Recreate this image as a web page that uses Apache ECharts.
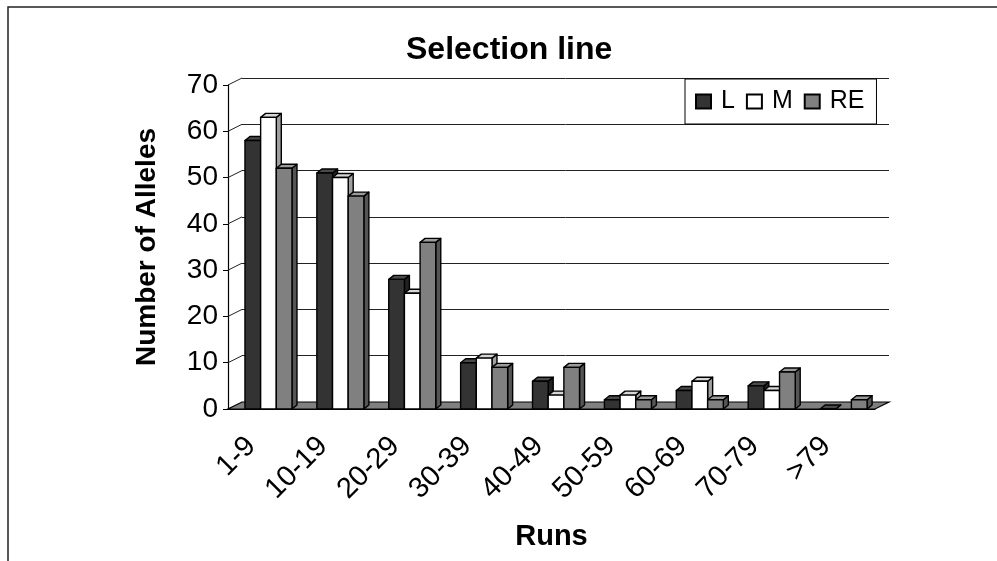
<!DOCTYPE html>
<html>
<head>
<meta charset="utf-8">
<script src="https://cdn.jsdelivr.net/npm/echarts@6/dist/echarts.min.js"></script>
<style>html,body{margin:0;padding:0;background:#fff;}#c{width:997px;height:561px;}</style>
</head>
<body>
<div id="c"></div>
<script>
var categories = ['1-9','10-19','20-29','30-39','40-49','50-59','60-69','70-79','>79'];
var seriesL  = [58, 51, 28, 10, 6, 2, 4, 5, 0];
var seriesM  = [63, 50, 25, 11, 3, 3, 6, 4, null];
var seriesRE = [52, 46, 36, 9, 9, 2, 2, 8, 2];
var yTicks = [0, 10, 20, 30, 40, 50, 60, 70];

var FONT = "'Liberation Sans', Arial, sans-serif";
var WALL_DX = 14, WALL_DY = -7;
var BAR_DX = 5, BAR_DY = -4;

var faceColors = [
  {front: '#333333', top: '#4a4a4a', side: '#222222'},
  {front: '#ffffff', top: '#d6d6d6', side: '#a0a0a0'},
  {front: '#808080', top: '#9a9a9a', side: '#555555'}
];

function toData(arr) {
  return arr.map(function (v, i) { return [i, v]; });
}

function barRender(si) {
  return function (params, api) {
    var v = api.value(1);
    if (v === null || v === undefined || isNaN(v)) return null;
    var idx = api.value(0);
    var band = api.size([1, 0])[0];
    var c = api.coord([idx, v]);
    var b = api.coord([idx, 0]);
    var w = band * 0.218;
    var x0 = c[0] - band / 2 + band * 0.236 + si * w;
    var yt = c[1], yb = b[1];
    var fc = faceColors[si];
    var st = {stroke: '#000', lineWidth: 1.4, lineJoin: 'round'};
    return {
      type: 'group',
      children: [
        {type: 'polygon', shape: {points: [[x0 + w, yb], [x0 + w + BAR_DX, yb + BAR_DY], [x0 + w + BAR_DX, yt + BAR_DY], [x0 + w, yt]]},
          style: Object.assign({fill: fc.side}, st)},
        {type: 'polygon', shape: {points: [[x0, yt], [x0 + w, yt], [x0 + w + BAR_DX, yt + BAR_DY], [x0 + BAR_DX, yt + BAR_DY]]},
          style: Object.assign({fill: fc.top}, st)},
        {type: 'rect', shape: {x: x0, y: yt, width: w, height: yb - yt},
          style: Object.assign({fill: fc.front}, st)}
      ]
    };
  };
}

function floorRender(params, api) {
  var cs = params.coordSys;
  var L = cs.x, R = cs.x + cs.width, y0 = cs.y + cs.height;
  var children = [
    {type: 'polygon', shape: {points: [[L, y0], [R, y0], [R + WALL_DX, y0 + WALL_DY], [L + WALL_DX, y0 + WALL_DY]]},
      style: {fill: '#808080', stroke: '#000', lineWidth: 1.2}}
  ];
  yTicks.forEach(function (t) {
    if (t === 0) return;
    var y = api.coord([0, t])[1];
    children.push({type: 'line', shape: {x1: L, y1: y, x2: L + WALL_DX, y2: y + WALL_DY},
      style: {stroke: '#222', lineWidth: 1}});
  });
  return {type: 'group', children: children};
}

var chart = echarts.init(document.getElementById('c'));
var option = {
  backgroundColor: '#fff',
  animation: false,
  title: {
    text: 'Selection line',
    left: 401, top: 29,
    textStyle: {fontFamily: FONT, fontSize: 32, fontWeight: 'bold', color: '#000'}
  },
  legend: {
    left: 685, top: 79,
    orient: 'horizontal',
    backgroundColor: '#fff',
    borderColor: '#000', borderWidth: 1,
    padding: [10, 12, 10, 10],
    itemGap: 11,
    itemWidth: 15, itemHeight: 14,
    icon: 'rect',
    data: ['L', 'M', 'RE'],
    textStyle: {fontFamily: FONT, fontSize: 25, color: '#000', padding: [0, 0, 0, 5]}
  },
  grid: [
    {left: 228, right: 122, top: 85, bottom: 152},
    {left: 242, right: 108, top: 78, bottom: 159}
  ],
  xAxis: [
    {
      type: 'category', gridIndex: 0, data: categories,
      name: 'Runs', nameLocation: 'middle', nameGap: 113,
      nameTextStyle: {fontFamily: FONT, fontSize: 29, fontWeight: 'bold', color: '#000'},
      axisLine: {lineStyle: {color: '#000', width: 1.2}},
      axisTick: {length: 6, lineStyle: {color: '#000'}},
      axisLabel: {rotate: 45, margin: 20, padding: [0, 18, 0, 0], fontFamily: FONT, fontSize: 29, color: '#000'}
    },
    {
      type: 'category', gridIndex: 1, data: categories,
      axisLine: {show: false}, axisTick: {show: false}, axisLabel: {show: false}
    }
  ],
  yAxis: [
    {
      type: 'value', gridIndex: 0, min: 0, max: 70, interval: 10,
      name: 'Number of Alleles', nameLocation: 'middle', nameGap: 67,
      nameTextStyle: {fontFamily: FONT, fontSize: 28, fontWeight: 'bold', color: '#000'},
      axisLine: {show: true, lineStyle: {color: '#000', width: 1.2}},
      axisTick: {show: true, length: 5, lineStyle: {color: '#000'}},
      splitLine: {show: false},
      axisLabel: {margin: 10, fontFamily: FONT, fontSize: 28, color: '#000'}
    },
    {
      type: 'value', gridIndex: 1, min: 0, max: 70, interval: 10,
      axisLine: {show: false}, axisTick: {show: false}, axisLabel: {show: false},
      splitLine: {show: true, lineStyle: {color: '#222', width: 1}}
    }
  ],
  graphic: [
    {type: 'rect', silent: true, z: 100,
      shape: {x: 8, y: 7, width: 1200, height: 800},
      style: {fill: 'none', stroke: '#222', lineWidth: 1.5}}
  ],
  series: [
    {type: 'custom', name: 'floor', xAxisIndex: 0, yAxisIndex: 0, data: [[0, 0]],
      renderItem: floorRender, silent: true, z: 1},
    {type: 'custom', name: 'L', xAxisIndex: 0, yAxisIndex: 0, data: toData(seriesL),
      encode: {x: 0, y: 1}, renderItem: barRender(0), z: 2,
      itemStyle: {color: faceColors[0].front, borderColor: '#000', borderWidth: 1}},
    {type: 'custom', name: 'M', xAxisIndex: 0, yAxisIndex: 0, data: toData(seriesM),
      encode: {x: 0, y: 1}, renderItem: barRender(1), z: 2,
      itemStyle: {color: faceColors[1].front, borderColor: '#000', borderWidth: 1}},
    {type: 'custom', name: 'RE', xAxisIndex: 0, yAxisIndex: 0, data: toData(seriesRE),
      encode: {x: 0, y: 1}, renderItem: barRender(2), z: 2,
      itemStyle: {color: faceColors[2].front, borderColor: '#000', borderWidth: 1}}
  ]
};
chart.setOption(option);
</script>
</body>
</html>
